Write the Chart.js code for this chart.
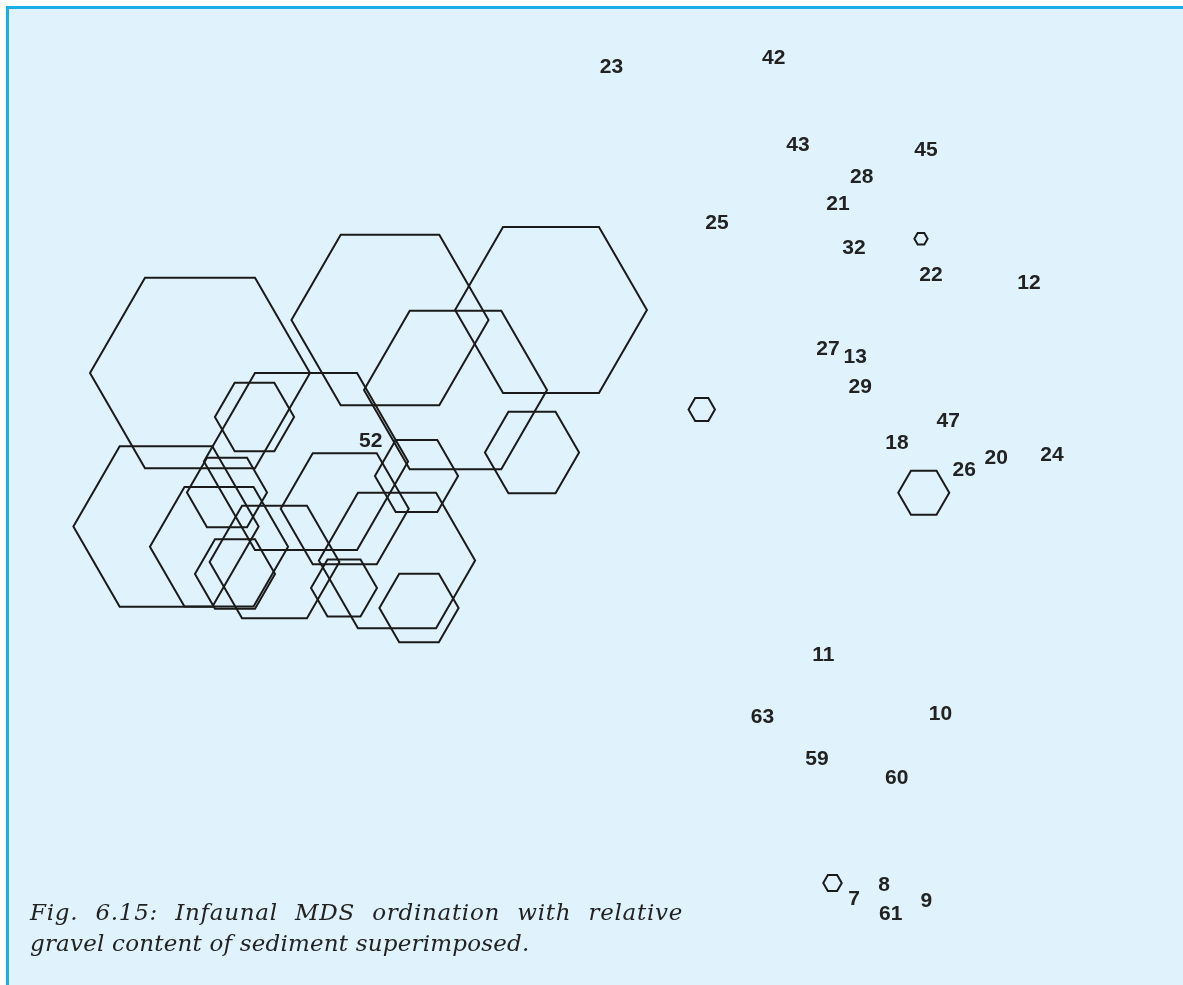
<!DOCTYPE html>
<html>
<head>
<meta charset="utf-8">
<title>Infaunal MDS ordination with gravel content</title>
<script src="https://cdn.jsdelivr.net/npm/chart.js@4.4.1/dist/chart.umd.min.js"></script>
<style>
  html, body { margin: 0; padding: 0; background: #fff; }
  #wrap { position: relative; width: 1183px; height: 985px; overflow: hidden; }
  #panel {
    position: absolute; left: 6px; top: 6px; right: 0; bottom: 0;
    background: #e0f3fc;
    border-top: 3px solid #18afe9;
    border-left: 3px solid #18afe9;
  }
  #mds { position: absolute; left: 0; top: 0; }
  .caption {
    position: absolute; left: 30px;
    font: italic 23px "DejaVu Serif", serif;
    letter-spacing: 0.2px;
    color: #222; white-space: nowrap;
  }
  #cap1 { top: 899px; width: 653px; letter-spacing: 0.7px; text-align: justify; text-align-last: justify; }
  #cap2 { top: 930px; }
</style>
</head>
<body>
<div id="wrap">
  <div id="panel"></div>
  <canvas id="mds" width="1183" height="985"></canvas>
  <div class="caption" id="cap1">Fig. 6.15: Infaunal MDS ordination with relative</div>
  <div class="caption" id="cap2">gravel content of sediment superimposed.</div>
</div>

<script>
// Station labels (MDS coordinates)
const siteNames = ['23', '42', '43', '45', '28', '21', '25', '32', '22', '12',
  '27', '13', '29', '47', '18', '26', '20', '24', '52',
  '11', '63', '10', '59', '60', '8', '7', '9', '61'];
const siteX = [0.046, 0.695, 0.792, 1.304, 1.047, 0.952, 0.468, 1.016, 1.324, 1.716,
  0.912, 1.021, 1.041, 1.393, 1.188, 1.457, 1.585, 1.808, -0.917,
  0.893, 0.650, 1.362, 0.868, 1.187, 1.136, 1.016, 1.305, 1.163];
const siteY = [1.734, 1.769, 1.420, 1.401, 1.293, 1.187, 1.108, 1.011, 0.903, 0.869,
  0.607, 0.575, 0.453, 0.316, 0.229, 0.120, 0.169, 0.183, 0.236,
  -0.619, -0.867, -0.855, -1.033, -1.111, -1.540, -1.596, -1.604, -1.655];

// Gravel content (relative) superimposed as hexagons
const gravelX = [-1.600, -0.840, -0.196, -0.578, -1.176, -1.382, -0.272, -0.734, -0.812,
  -0.724, -1.024, -1.021, -1.302, -1.736, -1.524, -1.492, -1.460,
  0.407, 1.295, 1.284, 0.930];
const gravelY = [0.508, 0.720, 0.760, 0.440, 0.154, 0.332, 0.190, 0.096, -0.242,
  -0.432, -0.352, -0.035, -0.248, -0.106, -0.187, 0.030, -0.296,
  0.362, 0.029, 1.045, -1.532];
const gravel = [50, 44.8, 43.6, 41.6, 46.4, 18, 21.4, 18.9, 35.5,
  18, 15, 29.1, 29.5, 42.1, 31.4, 18.2, 18.2,
  6, 11.6, 3, 4.2];

const xRange = [-2.4, 2.332];
const yRange = [-1.94, 2.0];
const pxPerGravel = 2.2;

const hexPlugin = {
  id: 'hexagons',
  afterDatasetsDraw(chart) {
    const c = chart.ctx;
    c.save();
    c.strokeStyle = '#1a1a1a';
    c.lineWidth = 2;
    chart.getDatasetMeta(0).data.forEach(pt => {
      const r = pt.options.radius;
      c.beginPath();
      for (let k = 0; k < 6; k++) {
        const a = Math.PI / 3 * k;
        const hx = pt.x + r * Math.cos(a), hy = pt.y + r * Math.sin(a);
        if (k === 0) c.moveTo(hx, hy); else c.lineTo(hx, hy);
      }
      c.closePath();
      c.stroke();
    });

    c.fillStyle = '#222';
    c.font = 'bold 21px "Liberation Sans", Arial, sans-serif';
    c.textAlign = 'center';
    c.textBaseline = 'alphabetic';
    chart.getDatasetMeta(1).data.forEach((pt, i) => {
      c.fillText(siteNames[i], pt.x, pt.y + 6.3);
    });
    c.restore();
  }
};

new Chart(document.getElementById('mds'), {
  type: 'scatter',
  data: {
    datasets: [{
      label: 'Gravel',
      data: gravelX.map((x, i) => ({ x: x, y: gravelY[i] })),
      pointRadius: ctx => ctx.dataIndex === undefined ? 0 : gravel[ctx.dataIndex] * pxPerGravel,
      pointBackgroundColor: 'rgba(0,0,0,0)',
      pointBorderColor: 'rgba(0,0,0,0)',
      pointBorderWidth: 0,
      clip: false
    }, {
      label: 'Stations',
      data: siteX.map((x, i) => ({ x: x, y: siteY[i] })),
      pointRadius: 0,
      clip: false
    }]
  },
  options: {
    responsive: false,
    animation: false,
    events: [],
    layout: { autoPadding: false, padding: 0 },
    plugins: { legend: { display: false }, tooltip: { enabled: false } },
    scales: {
      x: { type: 'linear', min: xRange[0], max: xRange[1], display: false },
      y: { type: 'linear', min: yRange[0], max: yRange[1], display: false }
    }
  },
  plugins: [hexPlugin]
});
</script>
</body>
</html>
